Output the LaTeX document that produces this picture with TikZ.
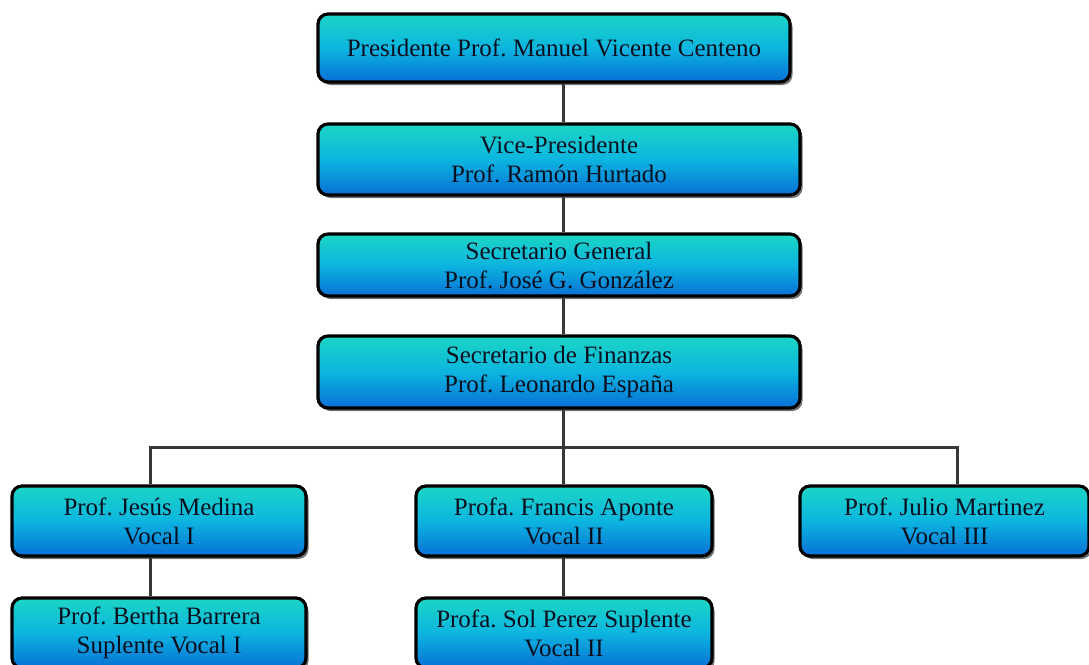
\documentclass[tikz,border=0pt]{standalone}
\usepackage{fontspec}
\setmainfont{Liberation Serif}
\usetikzlibrary{shadows}
\definecolor{topc}{RGB}{27,214,196}
\definecolor{midc}{RGB}{12,181,224}
\definecolor{botc}{RGB}{8,112,214}
\definecolor{linec}{RGB}{55,55,55}
\definecolor{txtc}{RGB}{8,16,32}
\tikzset{
  box/.style={draw=black, line width=3.2pt, rounded corners=10pt,
    top color=topc, bottom color=botc, middle color=midc,
    drop shadow={shadow xshift=2.5pt, shadow yshift=-3pt, opacity=0.55, fill=black},
    align=center, text=txtc, inner sep=0pt,
    font=\fontsize{25}{29}\selectfont},
  conn/.style={draw=linec, line width=3pt}
}
\frenchspacing
\begin{document}
\begin{tikzpicture}[x=1pt,y=-1pt]
\useasboundingbox (0,0) rectangle (1089,664);
\clip (0,0) rectangle (1089,664);
\node[box, minimum width=472pt, minimum height=68pt] (pres) at (554,48) {Presidente Prof. Manuel Vicente Centeno};
\node[box, minimum width=482pt, minimum height=71pt] (vp) at (559,159.5) {Vice-Presidente\\Prof. Ramón Hurtado};
\node[box, minimum width=482pt, minimum height=62pt] (sg) at (559,265) {Secretario General\\Prof. José G. González};
\node[box, minimum width=482pt, minimum height=72pt] (sf) at (559,372) {Secretario de Finanzas\\Prof. Leonardo España};
\node[box, minimum width=294pt, minimum height=70pt] (v1) at (159,521) {Prof. Jesús Medina\\Vocal I};
\node[box, minimum width=296pt, minimum height=70pt] (v2) at (564,521) {Profa. Francis Aponte\\Vocal II};
\node[box, minimum width=289pt, minimum height=70pt] (v3) at (944.5,521) {Prof. Julio Martinez\\Vocal III};
\node[box, minimum width=294pt, minimum height=70pt] (s1) at (159,633) {Prof. Bertha Barrera\\Suplente Vocal I};
\node[box, minimum width=296pt, minimum height=70pt] (s2) at (564,633) {Profa. Sol Perez Suplente\\Vocal II};
\coordinate (j) at (563,447);
\coordinate (c1) at (150,447);
\coordinate (c3) at (957,447);
\draw[conn] (pres.south -| j) -- (vp.north -| j);
\draw[conn] (vp.south -| j) -- (sg.north -| j);
\draw[conn] (sg.south -| j) -- (sf.north -| j);
\draw[conn] (sf.south -| j) -- (j);
\draw[conn] (v1.north -| c1) -- (c1) -- (c3) -- (v3.north -| c3);
\draw[conn] (j) -- (v2.north -| j);
\draw[conn] (v1.south -| c1) -- (s1.north -| c1);
\draw[conn] (v2.south -| j) -- (s2.north -| j);
\end{tikzpicture}
\end{document}
